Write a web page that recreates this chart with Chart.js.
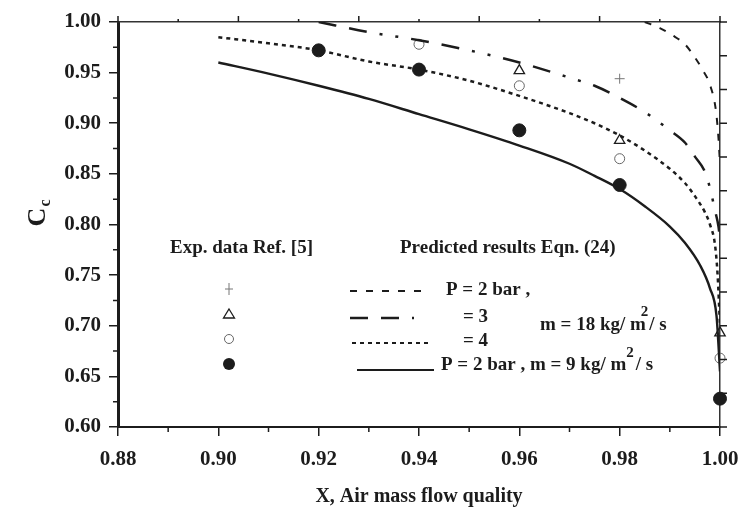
<!DOCTYPE html>
<html>
<head>
<meta charset="utf-8">
<script src="https://cdn.jsdelivr.net/npm/chart.js@4.4.0/dist/chart.umd.min.js"></script>
<style>
  html, body { margin: 0; padding: 0; background: #fff; overflow: hidden; }
  #wrap { width: 743px; height: 512px; position: relative; }
</style>
</head>
<body>
<div id="wrap"><canvas id="cc"></canvas></div>
<script>
// 坐标轴刻度
const xTicks = [0.88, 0.90, 0.92, 0.94, 0.96, 0.98, 1.00];
const xMinor = [0.89, 0.91, 0.93, 0.95, 0.97, 0.99];
const yMinor = [0.625, 0.675, 0.725, 0.775, 0.825, 0.875, 0.925, 0.975];

// 预测曲线 Eqn.(24)
// P = 2 bar, m = 18
const xP2 = [0.985, 0.988, 0.9905, 0.993, 0.995, 0.9965, 0.998, 0.9992, 0.9997, 1.000];
const cP2 = [1.000, 0.994, 0.987, 0.978, 0.965, 0.953, 0.938, 0.912, 0.885, 0.860];
// P = 3
const xP3 = [0.920, 0.930, 0.940, 0.950, 0.960, 0.970, 0.975, 0.980, 0.985, 0.990, 0.993, 0.995, 0.997, 0.998, 0.999, 0.9997, 1.000];
const cP3 = [1.000, 0.990, 0.982, 0.972, 0.960, 0.945, 0.937, 0.925, 0.911, 0.893, 0.881, 0.867, 0.852, 0.836, 0.814, 0.798, 0.785];
// P = 4
const xP4 = [0.900, 0.910, 0.920, 0.930, 0.940, 0.950, 0.960, 0.970, 0.975, 0.980, 0.985, 0.990, 0.993, 0.995, 0.997, 0.998, 0.999, 0.9995, 1.000];
const cP4 = [0.985, 0.979, 0.972, 0.961, 0.953, 0.942, 0.927, 0.910, 0.900, 0.888, 0.873, 0.855, 0.841, 0.828, 0.812, 0.800, 0.780, 0.752, 0.700];
// P = 2 bar, m = 9
const xM9 = [0.900, 0.910, 0.920, 0.930, 0.940, 0.950, 0.960, 0.970, 0.975, 0.980, 0.985, 0.990, 0.993, 0.996, 0.998, 0.9993, 1.000];
const cM9 = [0.960, 0.949, 0.937, 0.924, 0.909, 0.894, 0.878, 0.860, 0.848, 0.835, 0.818, 0.798, 0.782, 0.760, 0.737, 0.710, 0.655];

// 实验数据 Ref.[5]
const xExpPlus = [0.98];
const cExpPlus = [0.944];
const xExpTri = [0.96, 0.98, 1.00];
const cExpTri = [0.952, 0.883, 0.693];
const xExpOpen = [0.94, 0.96, 0.98, 1.00];
const cExpOpen = [0.978, 0.937, 0.865, 0.668];
const xExpDot = [0.92, 0.94, 0.96, 0.98, 1.00];
const cExpDot = [0.972, 0.953, 0.893, 0.839, 0.628];

const INK = '#1c1c1c';
const SERIF = '"Liberation Serif", "Times New Roman", serif';

const dashP2 = [7, 9];
const dashP3 = [18, 13, 18, 13, 3, 13, 3, 13];
const dashP4 = [4, 4];

function pts(xs, ys) {
    return xs.map((x, i) => ({ x: x, y: ys[i] }));
}

function curve(label, xs, ys, dash, w) {
    return {
        type: 'line', label: label, data: pts(xs, ys),
        borderColor: INK, borderWidth: w, borderDash: dash,
        pointRadius: 0, cubicInterpolationMode: 'monotone', fill: false
    };
}

function marks(label, xs, ys, style, r, fillColor, edge, bw) {
    return {
        type: 'scatter', label: label, data: pts(xs, ys),
        pointStyle: style, pointRadius: r, pointBackgroundColor: fillColor,
        pointBorderColor: edge, pointBorderWidth: bw, showLine: false, clip: false
    };
}

// 固定坐标区尺寸
function fixSize(w, h) {
    return s => {
        if (w !== null) s.width = w;
        if (h !== null) s.height = h;
        s.paddingLeft = 0; s.paddingRight = 0; s.paddingTop = 0; s.paddingBottom = 0;
    };
}

// 次刻度、图例及Y轴标题
const annotate = {
    id: 'annotate',
    afterDraw(chart) {
        const ctx = chart.ctx;
        const xs = chart.scales.x, ys = chart.scales.y;
        const x2 = chart.scales.x2, y2 = chart.scales.y2;
        ctx.save();
        ctx.strokeStyle = INK;
        ctx.fillStyle = INK;
        ctx.lineWidth = 1.5;
        ctx.setLineDash([]);
        ctx.beginPath();
        xMinor.forEach(v => { const p = xs.getPixelForValue(v); ctx.moveTo(p, xs.top); ctx.lineTo(p, xs.top + 5); });
        yMinor.forEach(v => { const p = ys.getPixelForValue(v); ctx.moveTo(ys.right, p); ctx.lineTo(ys.right - 5, p); });
        for (let i = 0; i <= 10; i++) {
            const p = x2.getPixelForValue(i);
            const len = i % 2 === 0 ? 6 : 3;
            ctx.moveTo(p, x2.bottom); ctx.lineTo(p, x2.bottom - len);
        }
        for (let i = 0; i <= 12; i++) {
            const p = y2.getPixelForValue(i);
            ctx.moveTo(y2.left, p); ctx.lineTo(y2.left + 7, p);
        }
        ctx.stroke();

        // Y轴标题 C_c
        ctx.save();
        ctx.translate(38, 217);
        ctx.rotate(-Math.PI / 2);
        ctx.textAlign = 'center';
        ctx.textBaseline = 'middle';
        ctx.font = 'bold 26px ' + SERIF;
        ctx.fillText('C', 0, 0);
        ctx.font = 'bold 16px ' + SERIF;
        ctx.fillText('c', 14, 8);
        ctx.restore();

        // 图例
        ctx.textAlign = 'left';
        ctx.textBaseline = 'middle';
        function seg(str, x, y, size) {
            ctx.font = 'bold ' + size + 'px ' + SERIF;
            ctx.fillText(str, x, y);
            return x + ctx.measureText(str).width;
        }
        seg('Exp. data Ref. [5]', 170, 248, 19);
        seg('Predicted results Eqn. (24)', 400, 248, 19);
        let cx = seg('P = 2 bar ,', 446, 290, 19);
        seg('= 3', 463, 317, 19);
        seg('= 4', 463, 341, 19);
        cx = seg('m = 18 kg/ m', 540, 325, 19);
        cx = seg('2', cx - 5, 312, 15);
        seg('/ s', cx + 1, 325, 19);
        cx = seg('P = 2 bar , m = 9 kg/ m', 441, 365, 19);
        cx = seg('2', cx, 353, 15);
        seg('/ s', cx + 2, 365, 19);

        const samples = [[dashP2, 350, 426, 291, 2], [dashP3, 350, 414, 318, 2.5], [dashP4, 352, 432, 343, 2], [[], 357, 434, 370, 2.2]];
        samples.forEach(s => {
            ctx.setLineDash(s[0]);
            ctx.lineWidth = s[4];
            ctx.beginPath();
            ctx.moveTo(s[1], s[3]);
            ctx.lineTo(s[2], s[3]);
            ctx.stroke();
        });
        ctx.setLineDash([]);

        // 图例符号
        ctx.lineWidth = 1;
        ctx.strokeStyle = '#777';
        ctx.beginPath();
        ctx.moveTo(229, 283); ctx.lineTo(229, 295);
        ctx.moveTo(225, 289); ctx.lineTo(233, 289);
        ctx.stroke();
        ctx.strokeStyle = INK;
        ctx.lineWidth = 1.3;
        ctx.beginPath();
        ctx.moveTo(229, 309); ctx.lineTo(234.5, 318); ctx.lineTo(223.5, 318); ctx.closePath();
        ctx.stroke();
        ctx.strokeStyle = '#666';
        ctx.lineWidth = 1;
        ctx.beginPath();
        ctx.arc(229, 339, 4.5, 0, Math.PI * 2);
        ctx.stroke();
        ctx.beginPath();
        ctx.arc(229, 364, 6, 0, Math.PI * 2);
        ctx.fill();
        ctx.restore();
    }
};

const chart = new Chart(document.getElementById('cc').getContext('2d'), {
    data: {
        datasets: [
            curve('P = 2 bar, m = 18', xP2, cP2, dashP2, 2),
            curve('= 3', xP3, cP3, dashP3, 2.5),
            curve('= 4', xP4, cP4, dashP4, 2.5),
            curve('P = 2 bar, m = 9', xM9, cM9, [], 2.4),
            marks('exp +', xExpPlus, cExpPlus, 'cross', 5, INK, '#777', 1),
            marks('exp tri', xExpTri, cExpTri, 'triangle', 6, 'rgba(255,255,255,0)', INK, 1.3),
            marks('exp open', xExpOpen, cExpOpen, 'circle', 5, 'rgba(255,255,255,0)', '#666', 1),
            marks('exp dot', xExpDot, cExpDot, 'circle', 6.5, INK, INK, 1)
        ]
    },
    options: {
        responsive: true,
        maintainAspectRatio: false,
        animation: false,
        layout: { padding: 0, autoPadding: false },
        plugins: { legend: { display: false }, tooltip: { enabled: false } },
        scales: {
            x: {
                type: 'linear', position: 'bottom', min: 0.88, max: 1.00,
                afterBuildTicks: s => { s.ticks = xTicks.map(v => ({ value: v })); },
                afterFit: fixSize(null, 85),
                ticks: {
                    color: INK, padding: 11, maxRotation: 0,
                    font: { family: SERIF, size: 21, weight: 'bold' },
                    callback: v => v.toFixed(2)
                },
                grid: { drawOnChartArea: false, drawTicks: true, tickLength: 9, color: INK, lineWidth: 1.5 },
                border: { display: true, color: INK, width: 2 },
                title: {
                    display: true, text: 'X, Air mass flow quality', color: INK,
                    font: { family: SERIF, size: 20, weight: 'bold' },
                    padding: { top: 0, bottom: 3 }
                }
            },
            y: {
                type: 'linear', position: 'left', min: 0.60, max: 1.00,
                afterFit: fixSize(118, null),
                ticks: {
                    stepSize: 0.05, color: INK, padding: 8,
                    font: { family: SERIF, size: 21, weight: 'bold' },
                    callback: v => v.toFixed(2)
                },
                grid: { drawOnChartArea: false, drawTicks: true, tickLength: 9, color: INK, lineWidth: 1.5 },
                border: { display: true, color: INK, width: 3 }
            },
            x2: {
                type: 'linear', position: 'top', min: 0, max: 10,
                afterFit: fixSize(null, 22),
                ticks: { display: false },
                grid: { display: false },
                border: { display: true, color: '#333', width: 1.5 }
            },
            y2: {
                type: 'linear', position: 'right', min: 0, max: 12,
                afterFit: fixSize(23, null),
                ticks: { display: false },
                grid: { display: false },
                border: { display: true, color: '#333', width: 1.5 }
            }
        }
    },
    plugins: [annotate]
});
</script>
</body>
</html>
